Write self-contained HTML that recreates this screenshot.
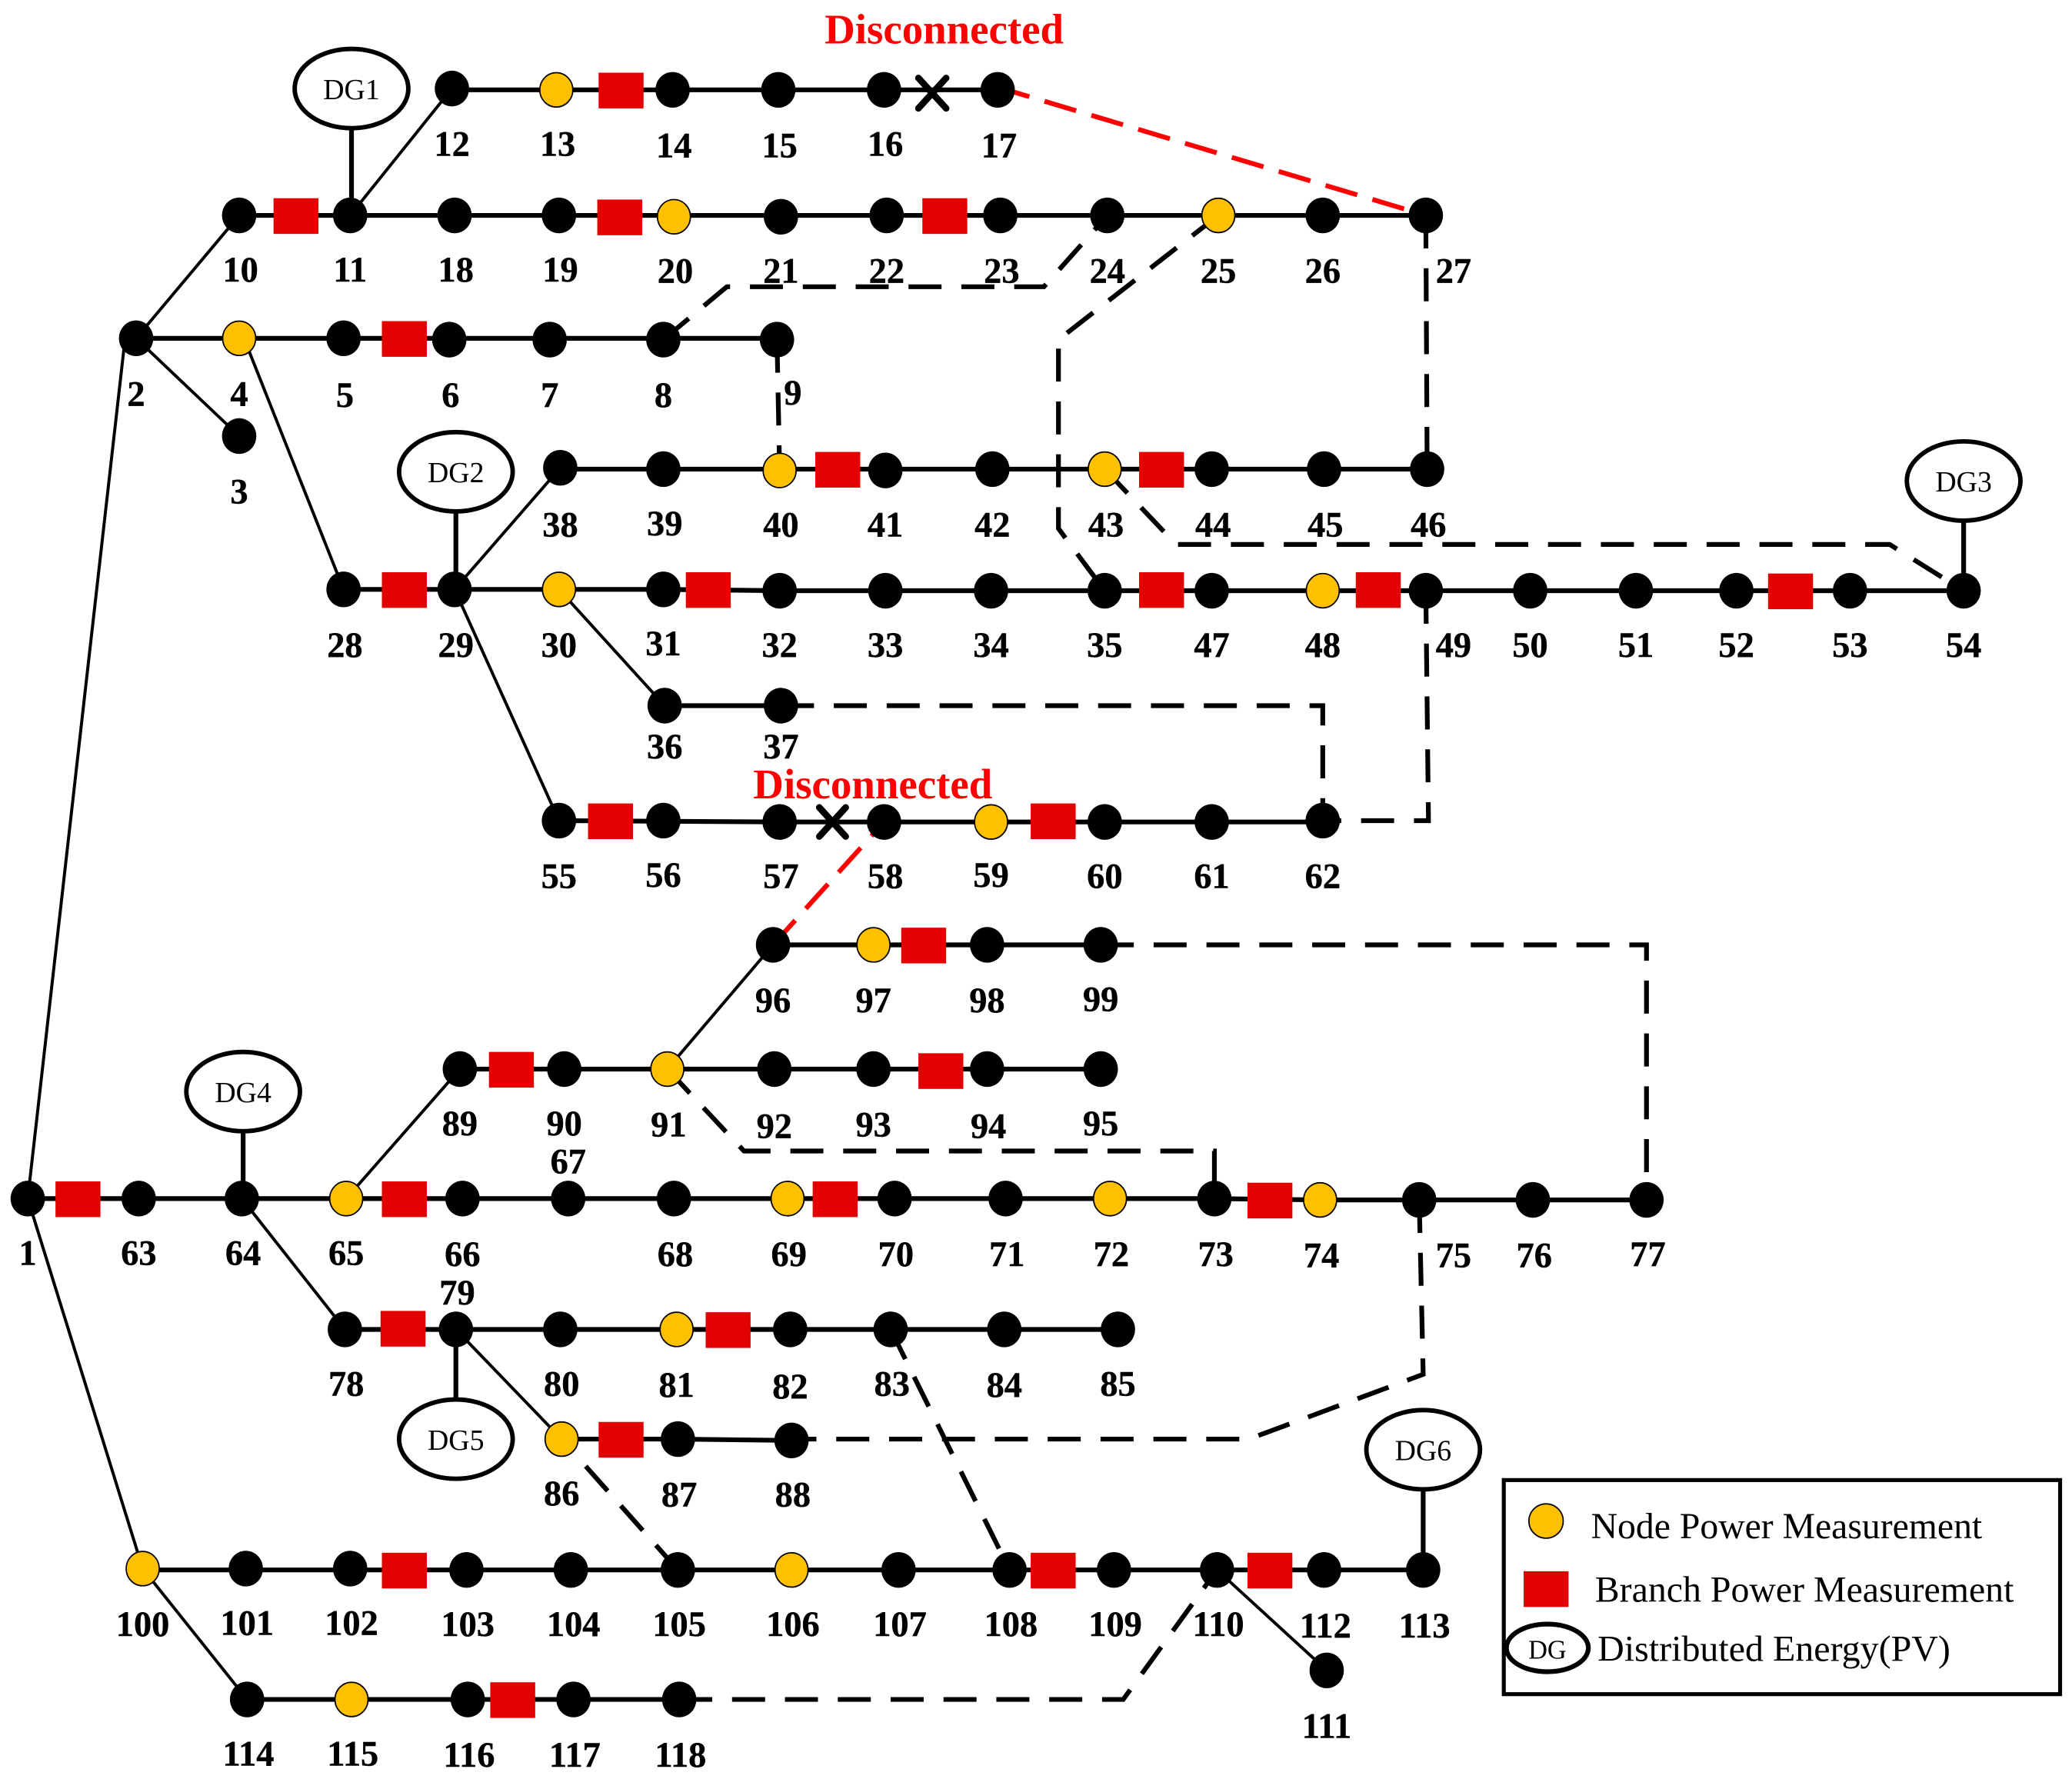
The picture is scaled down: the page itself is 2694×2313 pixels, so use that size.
<!DOCTYPE html>
<html><head><meta charset="utf-8"><style>
html,body{margin:0;padding:0;background:#fff}
svg{display:block}
text{font-family:"Liberation Serif",serif}
.l text{font-weight:bold;font-size:27px;text-anchor:middle;fill:#000;stroke:#000;stroke-width:.25}
.dg text{font-size:22px;text-anchor:middle;fill:#000}
</style></head><body>
<svg xmlns="http://www.w3.org/2000/svg" width="2694" height="2313" viewBox="0 0 1568 1346.2" preserveAspectRatio="none">
<rect x="0" y="0" width="1568" height="1347" fill="#fff"/>
<!-- thick solid -->
<g fill="none" stroke="#000" stroke-width="3.6">
<path d="M342 68H755"/>
<path d="M181 163H1079"/>
<path d="M103 256H588"/>
<path d="M424 355H1080"/>
<path d="M260 446H502L590 447H1486"/>
<path d="M503 534H591"/>
<path d="M423 621L590 622H1001"/>
<path d="M585 715H833"/>
<path d="M348 809H833"/>
<path d="M21 907H919L999 908H1246"/>
<path d="M261 1006H846"/>
<path d="M425 1089H513L599 1090"/>
<path d="M108 1188H1077"/>
<path d="M187 1286H514"/>
<path d="M266 67V163M345 357V446M1486 364V447M184 826V907M345 1006V1089M1077 1097V1188"/>
</g>
<!-- thin solid -->
<g fill="none" stroke="#000" stroke-width="2.3">
<path d="M103 256L181 163"/>
<path d="M103 256L181 330"/>
<path d="M94 262L21 907"/>
<path d="M187 262L260 446"/>
<path d="M265 163L342 67"/>
<path d="M344 446L424 354"/>
<path d="M344 446L423 621"/>
<path d="M423 446L503 534"/>
<path d="M505 809L585 715"/>
<path d="M262 907L348 809"/>
<path d="M183 907L261 1006"/>
<path d="M345 1006L425 1089"/>
<path d="M21 907L108 1187"/>
<path d="M108 1187L187 1286"/>
<path d="M921 1188L1004 1264"/>
</g>
<!-- black dashed -->
<g fill="none" stroke="#000" stroke-width="3.6" stroke-dasharray="25 15">
<path d="M502 257L550 217H790L838 163"/>
<path d="M922 163L801 257V400L836 447"/>
<path d="M1079 163L1080 355"/>
<path d="M588 257L590 356"/>
<path d="M836 355L890 412H1430L1486 447"/>
<path d="M591 534H1001V621"/>
<path d="M1079 447L1081 621H1001"/>
<path d="M833 715H1246V908"/>
<path d="M505 809L563 871H919V907"/>
<path d="M1074 908L1077 1040L945 1089H599"/>
<path d="M674 1006L764 1188"/>
<path d="M513 1188L425 1089"/>
<path d="M514 1286H850L921 1188"/>
</g>
<g fill="none" stroke="#f00" stroke-width="3.6" stroke-dasharray="25 12">
<path d="M755 66L1079 163"/>
<path d="M585 715L669 622"/>
</g>
<!-- X marks -->
<g stroke="#000" stroke-width="5" stroke-linecap="round" fill="none">
<path d="M695 59L716 82M716 59L695 82"/>
<path d="M620 611L640 633M640 611L620 633"/>
</g>
<!-- black nodes -->
<g fill="#000">
<ellipse cx="342" cy="67" rx="13" ry="13.5"/><ellipse cx="509" cy="68" rx="13" ry="13.5"/><ellipse cx="589" cy="68" rx="13" ry="13.5"/><ellipse cx="669" cy="68" rx="13" ry="13.5"/><ellipse cx="755" cy="68" rx="13" ry="13.5"/>
<ellipse cx="181" cy="163" rx="13" ry="13.5"/><ellipse cx="265" cy="163" rx="13" ry="13.5"/><ellipse cx="344" cy="163" rx="13" ry="13.5"/><ellipse cx="423" cy="163" rx="13" ry="13.5"/><ellipse cx="591" cy="164" rx="13" ry="13.5"/><ellipse cx="671" cy="163" rx="13" ry="13.5"/><ellipse cx="757" cy="163" rx="13" ry="13.5"/><ellipse cx="838" cy="163" rx="13" ry="13.5"/><ellipse cx="1001" cy="163" rx="13" ry="13.5"/><ellipse cx="1079" cy="163" rx="13" ry="13.5"/>
<ellipse cx="103" cy="256" rx="13" ry="13.5"/><ellipse cx="260" cy="256" rx="13" ry="13.5"/><ellipse cx="340" cy="257" rx="13" ry="13.5"/><ellipse cx="416" cy="257" rx="13" ry="13.5"/><ellipse cx="502" cy="257" rx="13" ry="13.5"/><ellipse cx="588" cy="257" rx="13" ry="13.5"/><ellipse cx="181" cy="330" rx="13" ry="13.5"/>
<ellipse cx="424" cy="354" rx="13" ry="13.5"/><ellipse cx="502" cy="355" rx="13" ry="13.5"/><ellipse cx="670" cy="356" rx="13" ry="13.5"/><ellipse cx="751" cy="355" rx="13" ry="13.5"/><ellipse cx="917" cy="355" rx="13" ry="13.5"/><ellipse cx="1002" cy="355" rx="13" ry="13.5"/><ellipse cx="1080" cy="355" rx="13" ry="13.5"/>
<ellipse cx="260" cy="446" rx="13" ry="13.5"/><ellipse cx="344" cy="446" rx="13" ry="13.5"/><ellipse cx="502" cy="446" rx="13" ry="13.5"/><ellipse cx="590" cy="447" rx="13" ry="13.5"/><ellipse cx="670" cy="447" rx="13" ry="13.5"/><ellipse cx="750" cy="447" rx="13" ry="13.5"/><ellipse cx="836" cy="447" rx="13" ry="13.5"/><ellipse cx="917" cy="447" rx="13" ry="13.5"/><ellipse cx="1079" cy="447" rx="13" ry="13.5"/><ellipse cx="1158" cy="447" rx="13" ry="13.5"/><ellipse cx="1238" cy="447" rx="13" ry="13.5"/><ellipse cx="1314" cy="447" rx="13" ry="13.5"/><ellipse cx="1400" cy="447" rx="13" ry="13.5"/><ellipse cx="1486" cy="447" rx="13" ry="13.5"/>
<ellipse cx="503" cy="534" rx="13" ry="13.5"/><ellipse cx="591" cy="534" rx="13" ry="13.5"/>
<ellipse cx="423" cy="621" rx="13" ry="13.5"/><ellipse cx="502" cy="621" rx="13" ry="13.5"/><ellipse cx="590" cy="622" rx="13" ry="13.5"/><ellipse cx="669" cy="622" rx="13" ry="13.5"/><ellipse cx="836" cy="622" rx="13" ry="13.5"/><ellipse cx="917" cy="622" rx="13" ry="13.5"/><ellipse cx="1001" cy="621" rx="13" ry="13.5"/>
<ellipse cx="585" cy="715" rx="13" ry="13.5"/><ellipse cx="747" cy="715" rx="13" ry="13.5"/><ellipse cx="833" cy="715" rx="13" ry="13.5"/>
<ellipse cx="348" cy="809" rx="13" ry="13.5"/><ellipse cx="427" cy="809" rx="13" ry="13.5"/><ellipse cx="586" cy="809" rx="13" ry="13.5"/><ellipse cx="661" cy="809" rx="13" ry="13.5"/><ellipse cx="747" cy="809" rx="13" ry="13.5"/><ellipse cx="833" cy="809" rx="13" ry="13.5"/>
<ellipse cx="21" cy="907" rx="13" ry="13.5"/><ellipse cx="105" cy="907" rx="13" ry="13.5"/><ellipse cx="183" cy="907" rx="13" ry="13.5"/><ellipse cx="350" cy="907" rx="13" ry="13.5"/><ellipse cx="430" cy="907" rx="13" ry="13.5"/><ellipse cx="510" cy="907" rx="13" ry="13.5"/><ellipse cx="677" cy="907" rx="13" ry="13.5"/><ellipse cx="761" cy="907" rx="13" ry="13.5"/><ellipse cx="919" cy="907" rx="13" ry="13.5"/><ellipse cx="1074" cy="908" rx="13" ry="13.5"/><ellipse cx="1160" cy="908" rx="13" ry="13.5"/><ellipse cx="1246" cy="908" rx="13" ry="13.5"/>
<ellipse cx="261" cy="1006" rx="13" ry="13.5"/><ellipse cx="345" cy="1006" rx="13" ry="13.5"/><ellipse cx="424" cy="1006" rx="13" ry="13.5"/><ellipse cx="598" cy="1006" rx="13" ry="13.5"/><ellipse cx="674" cy="1006" rx="13" ry="13.5"/><ellipse cx="760" cy="1006" rx="13" ry="13.5"/><ellipse cx="846" cy="1006" rx="13" ry="13.5"/>
<ellipse cx="513" cy="1089" rx="13" ry="13.5"/><ellipse cx="599" cy="1090" rx="13" ry="13.5"/>
<ellipse cx="186" cy="1187" rx="13" ry="13.5"/><ellipse cx="265" cy="1187" rx="13" ry="13.5"/><ellipse cx="353" cy="1188" rx="13" ry="13.5"/><ellipse cx="432" cy="1188" rx="13" ry="13.5"/><ellipse cx="513" cy="1188" rx="13" ry="13.5"/><ellipse cx="680" cy="1188" rx="13" ry="13.5"/><ellipse cx="764" cy="1188" rx="13" ry="13.5"/><ellipse cx="843" cy="1188" rx="13" ry="13.5"/><ellipse cx="921" cy="1188" rx="13" ry="13.5"/><ellipse cx="1002" cy="1188" rx="13" ry="13.5"/><ellipse cx="1077" cy="1188" rx="13" ry="13.5"/><ellipse cx="1004" cy="1264" rx="13" ry="13.5"/>
<ellipse cx="187" cy="1286" rx="13" ry="13.5"/><ellipse cx="354" cy="1286" rx="13" ry="13.5"/><ellipse cx="434" cy="1286" rx="13" ry="13.5"/><ellipse cx="514" cy="1286" rx="13" ry="13.5"/>
</g>
<!-- yellow nodes -->
<g fill="#FFC000" stroke="#000" stroke-width="1">
<ellipse cx="421" cy="68" rx="12.5" ry="13"/><ellipse cx="510" cy="164" rx="12.5" ry="13"/><ellipse cx="922" cy="163" rx="12.5" ry="13"/><ellipse cx="181" cy="256" rx="12.5" ry="13"/><ellipse cx="590" cy="356" rx="12.5" ry="13"/><ellipse cx="836" cy="355" rx="12.5" ry="13"/><ellipse cx="423" cy="446" rx="12.5" ry="13"/><ellipse cx="1001" cy="447" rx="12.5" ry="13"/><ellipse cx="750" cy="622" rx="12.5" ry="13"/><ellipse cx="661" cy="715" rx="12.5" ry="13"/><ellipse cx="505" cy="809" rx="12.5" ry="13"/><ellipse cx="262" cy="907" rx="12.5" ry="13"/><ellipse cx="596" cy="907" rx="12.5" ry="13"/><ellipse cx="840" cy="907" rx="12.5" ry="13"/><ellipse cx="999" cy="908" rx="12.5" ry="13"/><ellipse cx="512" cy="1006" rx="12.5" ry="13"/><ellipse cx="425" cy="1089" rx="12.5" ry="13"/><ellipse cx="108" cy="1187" rx="12.5" ry="13"/><ellipse cx="599" cy="1188" rx="12.5" ry="13"/><ellipse cx="266" cy="1286" rx="12.5" ry="13"/>
</g>
<!-- red squares -->
<g fill="#E30000">
<rect x="453" y="55" width="34" height="27"/><rect x="207" y="150" width="34" height="27"/><rect x="452" y="151" width="34" height="27"/><rect x="698" y="150" width="34" height="27"/><rect x="289" y="243" width="34" height="27"/><rect x="617" y="342" width="34" height="27"/><rect x="862" y="342" width="34" height="27"/><rect x="289" y="433" width="34" height="27"/><rect x="519" y="433" width="34" height="27"/><rect x="862" y="433" width="34" height="27"/><rect x="1026" y="433" width="34" height="27"/><rect x="1338" y="434" width="34" height="27"/><rect x="445" y="608" width="34" height="27"/><rect x="780" y="608" width="34" height="27"/><rect x="682" y="702" width="34" height="27"/><rect x="370" y="796" width="34" height="27"/><rect x="695" y="797" width="34" height="27"/><rect x="42" y="894" width="34" height="27"/><rect x="289" y="894" width="34" height="27"/><rect x="615" y="894" width="34" height="27"/><rect x="944" y="895" width="34" height="27"/><rect x="288" y="992" width="34" height="27"/><rect x="534" y="993" width="34" height="27"/><rect x="453" y="1076" width="34" height="27"/><rect x="289" y="1175" width="34" height="27"/><rect x="780" y="1175" width="34" height="27"/><rect x="944" y="1175" width="34" height="27"/><rect x="371" y="1273" width="34" height="27"/>
</g>
<!-- DG -->
<g class="dg">
<g fill="#fff" stroke="#000" stroke-width="3.4">
<ellipse cx="266" cy="67" rx="43" ry="30"/><ellipse cx="345" cy="357" rx="43" ry="30"/><ellipse cx="1486" cy="364" rx="43" ry="30"/><ellipse cx="184" cy="826" rx="43" ry="30"/><ellipse cx="345" cy="1089" rx="43" ry="30"/><ellipse cx="1077" cy="1097" rx="43" ry="30"/>
</g>
<text x="266" y="75">DG1</text><text x="345" y="365">DG2</text><text x="1486" y="372">DG3</text><text x="184" y="834">DG4</text><text x="345" y="1097">DG5</text><text x="1077" y="1105">DG6</text>
</g>
<!-- labels -->
<g class="l">
<text x="342" y="118">12</text><text x="422" y="118">13</text><text x="510" y="119">14</text><text x="590" y="119">15</text><text x="670" y="118">16</text><text x="756" y="119">17</text>
<text x="182" y="213">10</text><text x="265" y="213">11</text><text x="345" y="213">18</text><text x="424" y="213">19</text><text x="511" y="214">20</text><text x="591" y="214">21</text><text x="671" y="214">22</text><text x="758" y="214">23</text><text x="838" y="214">24</text><text x="922" y="214">25</text><text x="1001" y="214">26</text><text x="1100" y="214">27</text>
<text x="103" y="307">2</text><text x="181" y="307">4</text><text x="261" y="308">5</text><text x="341" y="308">6</text><text x="416" y="308">7</text><text x="502" y="308">8</text><text x="600" y="306">9</text><text x="181" y="381">3</text>
<text x="424" y="406">38</text><text x="503" y="405">39</text><text x="591" y="406">40</text><text x="670" y="406">41</text><text x="751" y="406">42</text><text x="837" y="406">43</text><text x="918" y="406">44</text><text x="1003" y="406">45</text><text x="1081" y="406">46</text>
<text x="261" y="497">28</text><text x="345" y="497">29</text><text x="423" y="497">30</text><text x="502" y="496">31</text><text x="590" y="497">32</text><text x="670" y="497">33</text><text x="750" y="497">34</text><text x="836" y="497">35</text><text x="917" y="497">47</text><text x="1001" y="497">48</text><text x="1100" y="497">49</text><text x="1158" y="497">50</text><text x="1238" y="497">51</text><text x="1314" y="497">52</text><text x="1400" y="497">53</text><text x="1486" y="497">54</text>
<text x="503" y="574">36</text><text x="591" y="574">37</text>
<text x="423" y="672">55</text><text x="502" y="671">56</text><text x="591" y="672">57</text><text x="670" y="672">58</text><text x="750" y="671">59</text><text x="836" y="672">60</text><text x="917" y="672">61</text><text x="1001" y="672">62</text>
<text x="585" y="766">96</text><text x="661" y="766">97</text><text x="747" y="766">98</text><text x="833" y="765">99</text>
<text x="348" y="859">89</text><text x="427" y="859">90</text><text x="506" y="860">91</text><text x="586" y="861">92</text><text x="661" y="860">93</text><text x="748" y="861">94</text><text x="833" y="859">95</text><text x="430" y="888">67</text>
<text x="21" y="957">1</text><text x="105" y="957">63</text><text x="184" y="957">64</text><text x="262" y="957">65</text><text x="350" y="958">66</text><text x="511" y="958">68</text><text x="597" y="958">69</text><text x="678" y="958">70</text><text x="762" y="958">71</text><text x="841" y="958">72</text><text x="920" y="958">73</text><text x="1000" y="959">74</text><text x="1100" y="959">75</text><text x="1161" y="959">76</text><text x="1247" y="958">77</text>
<text x="346" y="987">79</text><text x="262" y="1056">78</text><text x="425" y="1056">80</text><text x="512" y="1057">81</text><text x="598" y="1058">82</text><text x="675" y="1056">83</text><text x="760" y="1057">84</text><text x="846" y="1056">85</text>
<text x="425" y="1139">86</text><text x="514" y="1140">87</text><text x="600" y="1140">88</text>
<text x="108" y="1238">100</text><text x="187" y="1237">101</text><text x="266" y="1237">102</text><text x="354" y="1238">103</text><text x="434" y="1238">104</text><text x="514" y="1238">105</text><text x="600" y="1238">106</text><text x="681" y="1238">107</text><text x="765" y="1238">108</text><text x="844" y="1238">109</text><text x="922" y="1238">110</text><text x="1003" y="1239">112</text><text x="1078" y="1239">113</text><text x="1004" y="1315">111</text>
<text x="188" y="1336">114</text><text x="267" y="1336">115</text><text x="355" y="1337">116</text><text x="435" y="1337">117</text><text x="515" y="1337">118</text>
</g>
<text x="624" y="33" font-size="32" font-weight="bold" fill="#f00" textLength="181" lengthAdjust="spacingAndGlyphs">Disconnected</text>
<text x="570" y="604" font-size="32" font-weight="bold" fill="#f00" textLength="181" lengthAdjust="spacingAndGlyphs">Disconnected</text>
<!-- legend -->
<rect x="1138" y="1120" width="421" height="162" fill="#fff" stroke="#000" stroke-width="3"/>
<ellipse cx="1170" cy="1151" rx="13" ry="13" fill="#FFC000" stroke="#000" stroke-width="1"/>
<rect x="1153" y="1189" width="34" height="27" fill="#E30000"/>
<ellipse cx="1171" cy="1247" rx="31" ry="18" fill="#fff" stroke="#000" stroke-width="3.6"/>
<text x="1171" y="1255" font-size="20" text-anchor="middle">DG</text>
<text x="1204" y="1164" font-size="28" textLength="296" lengthAdjust="spacingAndGlyphs">Node Power Measurement</text>
<text x="1207" y="1212" font-size="28" textLength="317" lengthAdjust="spacingAndGlyphs">Branch Power Measurement</text>
<text x="1209" y="1257" font-size="28" textLength="267" lengthAdjust="spacingAndGlyphs">Distributed Energy(PV)</text>
</svg>
</body></html>
